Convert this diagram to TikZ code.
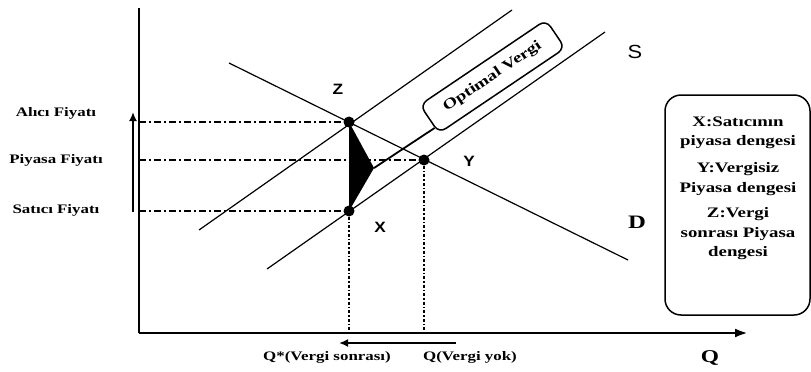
\documentclass[tikz,border=0pt]{standalone}
\usepackage{fontspec}
\setmainfont{Liberation Serif}
\newfontfamily\lab[FakeStretch=1.3]{Liberation Serif}
\newfontfamily\sanslab[FakeStretch=1.15]{Liberation Sans}
\usetikzlibrary{arrows.meta,calc}
\tikzset{
  curve/.style={line width=1.2pt},
  axis/.style={line width=2.8pt},
  guideh/.style={line width=1.3pt,dash pattern=on 7pt off 3pt on 2pt off 3pt},
  guidev/.style={line width=1.5pt,dash pattern=on 3pt off 2pt on 1.5pt off 2pt},
  eq/.style={circle,fill=black,inner sep=0pt,minimum size=11pt},
  ptlabel/.style={font=\sanslab\bfseries\fontsize{15}{18}\selectfont,inner sep=0pt},
  pricelabel/.style={font=\lab\bfseries\fontsize{13}{15}\selectfont,inner sep=0pt},
  legtext/.style={font=\lab\bfseries\fontsize{14.5}{19.5}\selectfont,align=center,inner sep=0pt},
  bigarrow/.style={line width=2.4pt,-{Latex[length=9pt,width=8pt]}},
}
\begin{document}
\begin{tikzpicture}[x=1pt,y=-1pt]
\useasboundingbox (0,0) rectangle (811,372);
% axes
\coordinate (O) at (139,333);
\coordinate (ytop) at (139,8);
\coordinate (xend) at (748,333);
\draw[axis] (ytop) -- (O);
\draw[axis,-{Latex[length=13pt,width=9pt]}] (O) -- (xend);

% curve end points
\coordinate (d1) at (229,63);
\coordinate (d2) at (628,260);
\coordinate (su1) at (199,230);
\coordinate (su2) at (512,10);
\coordinate (sl1) at (267,269);
\coordinate (sl2) at (605,32);

% equilibrium points
\node[eq] (Z) at (349,122) {};
\node[eq] (Y) at (424,160) {};
\node[eq] (X) at (349,211) {};
\coordinate (tip) at (374,168);

% guides
\draw[guideh] (Z -| O) -- (Z);
\draw[guideh] (Y -| O) -- (Y);
\draw[guideh] (X -| O) -- (X);
\draw[guidev] (X) -- (X |- O);
\draw[guidev] (Y) -- (Y |- O);

% curves
\draw[curve] (d1) -- (d2);
\draw[curve] (su1) -- (su2);
\draw[curve] (sl1) -- (sl2);

% tax triangle
\fill[black] (Z.center) -- (tip) -- (X.center) -- cycle;

% optimal tax box
\node[draw,line width=1.5pt,rounded corners=8pt,rotate=34,minimum width=152pt,minimum height=34pt,
      font=\lab\bfseries\fontsize{14.5}{17}\selectfont,fill=white] (ov) at (492.5,76.5) {Optimal Vergi};
\draw[line width=1.8pt] (tip) -- ($(ov.west)!0.58!(ov.south west)$);

% point labels
\node[ptlabel] (zl) at (338,89) {Z};
\node[ptlabel] (yl) at (469,161) {Y};
\node[ptlabel] (xl) at (380,227) {X};
\node[font=\sanslab\fontsize{19}{22}\selectfont,inner sep=0pt] (sl) at (635,52) {S};
\node[font=\lab\bfseries\fontsize{19}{22}\selectfont,inner sep=0pt] (dl) at (637,222) {D};
\node[font=\lab\bfseries\fontsize{18}{22}\selectfont,inner sep=0pt] (ql) at (710,358) {Q};

% price labels
\node[pricelabel] (alici) at (56,113) {Alıcı Fiyatı};
\node[pricelabel] (piyasa) at (56,160) {Piyasa Fiyatı};
\node[pricelabel] (satici) at (56,210) {Satıcı Fiyatı};
\coordinate (pa1) at (133,212);
\coordinate (pa2) at (133,112);
\draw[bigarrow] (pa1) -- (pa2);

% quantity labels
\node[pricelabel] (qstar) at (327,357) {Q*(Vergi sonrası)};
\node[pricelabel] (qno) at (470,357) {Q(Vergi yok)};
\coordinate (qa1) at (456,343);
\coordinate (qa2) at (339,343);
\draw[bigarrow] (qa1) -- (qa2);

% legend
\draw[line width=1.5pt,rounded corners=16pt] (665,95) rectangle (810,315);
\node[legtext] (lx) at (738,133) {X:Satıcının\\piyasa dengesi};
\node[legtext] (ly) at (738,179) {Y:Vergisiz\\Piyasa dengesi};
\node[legtext] (lz) at (738,234) {Z:Vergi\\sonrası Piyasa\\dengesi};
\end{tikzpicture}
\end{document}
